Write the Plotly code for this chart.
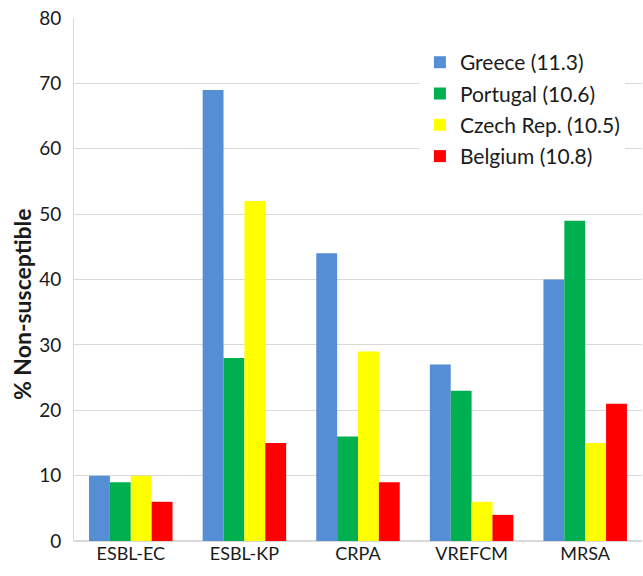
import plotly.graph_objects as go

categories = ["ESBL-EC", "ESBL-KP", "CRPA", "VREFCM", "MRSA"]
series_names = ["Greece (11.3)", "Portugal (10.6)", "Czech Rep. (10.5)", "Belgium (10.8)"]
greece = [10, 69, 44, 27, 40]
portugal = [9, 28, 16, 23, 49]
czech = [10, 52, 29, 6, 15]
belgium = [6, 15, 9, 4, 21]
colors = ["#558ed5", "#00b050", "#ffff00", "#ff0000"]
y_ticks = [0, 10, 20, 30, 40, 50, 60, 70, 80]
y_title = "% Non-susceptible"

fig = go.Figure()
for i, (name, vals) in enumerate(zip(series_names, [greece, portugal, czech, belgium])):
    fig.add_trace(go.Bar(x=categories, y=vals, name=name, marker_color=colors[i],
                         marker_line_width=0, legendgroup=str(i)))

font = "Lato, 'Open Sans', sans-serif"
fig.update_layout(
    width=643, height=576,
    margin=dict(l=74, r=1, t=18, b=35),
    paper_bgcolor="white", plot_bgcolor="white",
    barmode="group", bargap=0.265, bargroupgap=0,
    font=dict(family=font, size=18, color="#1a1a1a"),
    legend=dict(x=0.609, y=0.954, xanchor="left", yanchor="top",
                bgcolor="white", font=dict(size=21, color="#1a1a1a"),
                tracegroupgap=1, traceorder="grouped"),
    showlegend=True,
)
fig.add_annotation(text="<b>" + y_title + "</b>", textangle=-90, xref="paper", yref="paper",
                   x=0, y=0.453, xanchor="center", yanchor="middle", xshift=-52,
                   showarrow=False, font=dict(size=23, color="#1a1a1a"))
fig.update_xaxes(showline=False, showgrid=False, ticks="", tickfont=dict(size=18))
fig.update_yaxes(range=[0, 80], tickvals=y_ticks, showgrid=True, gridcolor="#d9d9d9",
                 gridwidth=1, showline=True, linecolor="#d9d9d9", linewidth=1,
                 zeroline=True, zerolinecolor="#d9d9d9", ticks="", ticklabelstandoff=8,
                 tickfont=dict(size=19))

fig.write_html("out.html")
